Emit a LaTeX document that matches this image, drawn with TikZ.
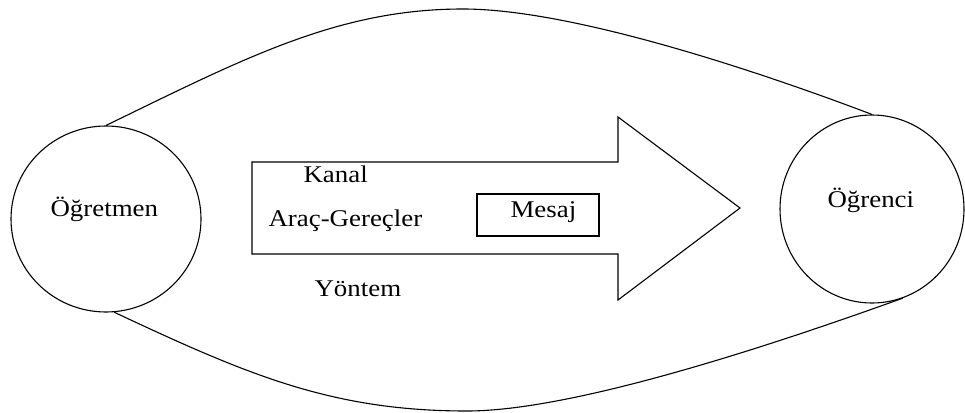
\documentclass[tikz,border=0pt]{standalone}
\usepackage{fontspec}
\setmainfont{Liberation Serif}
\newfontfamily\lblfont[FakeStretch=1.12]{Liberation Serif}
\usetikzlibrary{shapes.geometric}
\begin{document}
\begin{tikzpicture}[x=1pt,y=-1pt,
  line width=1.1pt,
  person/.style={ellipse, draw, inner sep=0pt},
  lbl/.style={anchor=base west, inner sep=0pt, font=\lblfont\fontsize{24}{28}\selectfont},
  curve/.style={line width=1.1pt}
  ]
\useasboundingbox (0,0) rectangle (965,412);
% people
\node[person, minimum width=190pt, minimum height=186pt] (L) at (106,219) {};
\node[person, minimum width=184pt, minimum height=188pt] (R) at (872,209) {};
\node[lbl] (Ltxt) at (50,216) {Öğretmen};
\node[lbl] (Rtxt) at (827,207) {Öğrenci};
% big arrow
\draw (252,162) -- (618,162) -- (618,117) -- (740,208) -- (618,300) -- (618,254) -- (252,254) -- cycle;
% message box
\node[draw, minimum width=122pt, minimum height=42pt, inner sep=0pt] (M) at (538,215) {};
\node[lbl] (Mtxt) at (510,217) {Mesaj};
% labels
\node[lbl] (kanal) at (303,182) {Kanal};
\node[lbl] (arac) at (268,226) {Araç-Gereçler};
\node[lbl] (yontem) at (314,296) {Yöntem};
% connecting curves
\coordinate (topmid) at (463,9);
\coordinate (botmid) at (467,411);
\draw[curve] (L.north) .. controls (245,58) and (338,9) .. (topmid)
                       .. controls (568,9) and (747,67) .. (R.north);
\draw[curve] (L.-85) .. controls (248,375) and (332,411) .. (botmid)
                     .. controls (576,411) and (781,342) .. (R.-71);
\end{tikzpicture}
\end{document}
